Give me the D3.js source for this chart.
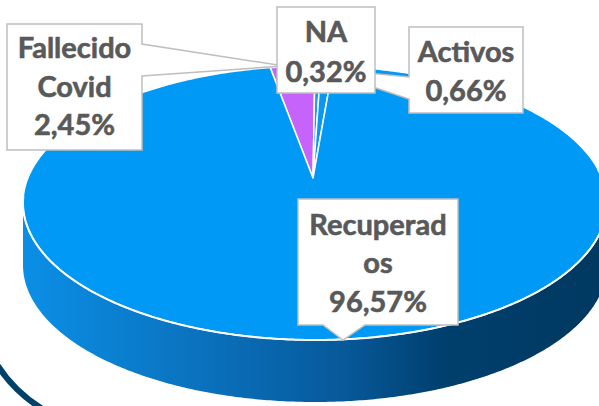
<!DOCTYPE html>
<html>
<head>
<meta charset="utf-8">
<script src="https://cdn.jsdelivr.net/npm/d3@7"></script>
<style>
  html, body { margin: 0; padding: 0; background: #fff; }
  svg { display: block; }
</style>
</head>
<body>
<div id="chart"></div>
<script>
//chart data
const categories = ["Fallecido Covid", "NA", "Activos", "Recuperados"];
const values = [2.45, 0.32, 0.66, 96.57];
const labelLines = [
  ["Fallecido", "Covid"],
  ["NA"],
  ["Activos"],
  ["Recuperad", "os"]
];
const sliceColors = ["#C563FB", "#1E9BF0", "#0A97F2", "#0099F6"];

const width = 599, height = 406;

//top ellipse of the 3D pie
const cx = 315, cy = 203, rx = 292, ry = 137, depth = 62;
const apex = { x: cx - 2, y: cy - 25 };

const svg = d3.select("#chart").append("svg")
  .attr("width", width)
  .attr("height", height);

const defs = svg.append("defs");
const grad = defs.append("linearGradient")
  .attr("id", "sideGrad")
  .attr("gradientUnits", "userSpaceOnUse")
  .attr("x1", cx - rx).attr("y1", 0)
  .attr("x2", cx + rx).attr("y2", 0);
[["0%", "#0A8FE6"], ["30%", "#0A72BE"], ["55%", "#07599A"], ["72%", "#003F6E"], ["100%", "#003960"]]
  .forEach(([o, c]) => grad.append("stop").attr("offset", o).attr("stop-color", c));

//decorative dark arc at the lower left corner
svg.append("path")
  .attr("d", "M -4 363 Q 14 392 44 410")
  .attr("fill", "none")
  .attr("stroke", "#00416A")
  .attr("stroke-width", 6);

//pie layout, Fallecido ends at 12 o'clock
const startA = -values[0] / d3.sum(values) * 2 * Math.PI;
const pie = d3.pie().sort(null).value(d => d)
  .startAngle(startA).endAngle(startA + 2 * Math.PI);
const arcs = pie(values);

const pt = (a, dy = 0) => [cx + rx * Math.sin(a), cy - ry * Math.cos(a) + dy];

function arcPoints(a0, a1, dy = 0) {
  const n = Math.max(2, Math.ceil(Math.abs(a1 - a0) / 0.01));
  return d3.range(n + 1).map(i => pt(a0 + (a1 - a0) * i / n, dy));
}

//side wall (front half only)
arcs.forEach((d, i) => {
  const a0 = Math.max(d.startAngle, Math.PI / 2);
  const a1 = Math.min(d.endAngle, 3 * Math.PI / 2);
  if (a1 <= a0) return;
  const top = arcPoints(a0, a1);
  const bottom = arcPoints(a1, a0, depth);
  svg.append("path")
    .attr("d", d3.line()(top.concat(bottom)) + "Z")
    .attr("fill", "url(#sideGrad)");
});

//top surface slices
arcs.forEach((d, i) => {
  const pts = [[apex.x, apex.y]].concat(arcPoints(d.startAngle, d.endAngle));
  svg.append("path")
    .attr("d", d3.line()(pts) + "Z")
    .attr("fill", sliceColors[i])
    .attr("stroke", "#fff")
    .attr("stroke-width", 1.5)
    .attr("stroke-linejoin", "round");
});

//white rim on the front edge
svg.append("path")
  .attr("d", d3.line()(arcPoints(Math.PI / 2 - 0.25, 3 * Math.PI / 2 + 0.05)))
  .attr("fill", "none")
  .attr("stroke", "#fff")
  .attr("stroke-width", 2);

//callouts
const fmt = v => d3.format(".2f")(v).replace(".", ",") + "%";

const callouts = [
  { idx: 0, x: 7, y: 24, w: 135, h: 126, side: "right", b0: 44, b1: 76, tip: [284, 66], base: [58, 97, 135] },
  { idx: 2, x: 409, y: 27, w: 114, h: 86, side: "left", b0: 77, b1: 99, tip: [316, 68], base: [62, 101] },
  { idx: 1, x: 277, y: 7, w: 98, h: 86, side: null, base: [42, 82] },
  { idx: 3, x: 298, y: 199, w: 160, h: 126, side: "bottom", b0: 323, b1: 365, tip: [343, 340], base: [235, 273, 312] }
];

callouts.forEach(c => {
  const x0 = c.x, y0 = c.y, x1 = c.x + c.w, y1 = c.y + c.h;
  let p;
  if (c.side === "right") {
    p = [[x0, y0], [x1, y0], [x1, c.b0], c.tip, [x1, c.b1], [x1, y1], [x0, y1]];
  } else if (c.side === "left") {
    p = [[x0, y0], [x1, y0], [x1, y1], [x0, y1], [x0, c.b1], c.tip, [x0, c.b0]];
  } else if (c.side === "bottom") {
    p = [[x0, y0], [x1, y0], [x1, y1], [c.b1, y1], c.tip, [c.b0, y1], [x0, y1]];
  } else {
    p = [[x0, y0], [x1, y0], [x1, y1], [x0, y1]];
  }
  const g = svg.append("g");
  g.append("path")
    .attr("d", d3.line()(p) + "Z")
    .attr("fill", "#fff")
    .attr("stroke", "#BFBFBF")
    .attr("stroke-width", 1.5);

  const lines = labelLines[c.idx].concat([fmt(values[c.idx])]);
  lines.forEach((t, k) => {
    g.append("text")
      .attr("x", x0 + c.w / 2)
      .attr("y", c.base[k])
      .attr("text-anchor", "middle")
      .attr("font-family", "Lato, 'Open Sans', sans-serif")
      .attr("font-weight", "bold")
      .attr("font-size", 29)
      .attr("fill", "#595959")
      .attr("stroke", "#595959")
      .attr("stroke-width", 0.6)
      .text(t);
  });
});
</script>
</body>
</html>
